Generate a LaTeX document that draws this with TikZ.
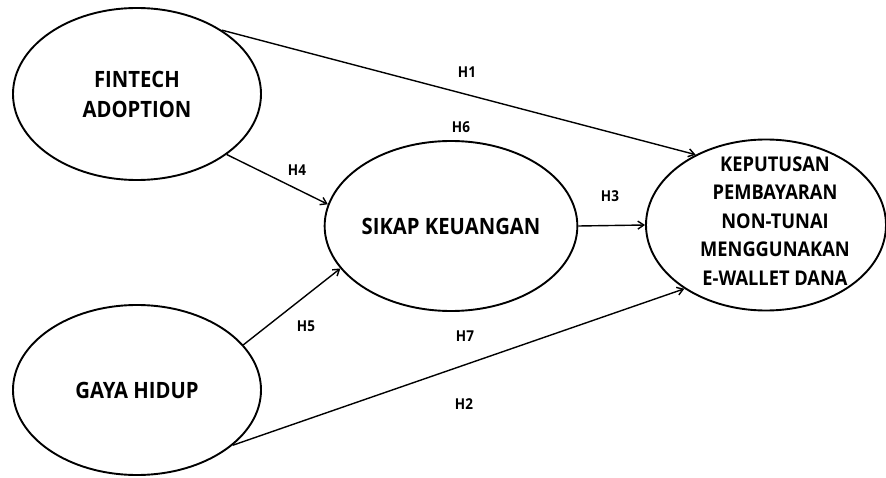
\documentclass[tikz,border=0pt]{standalone}
\usepackage{fontspec}
\newfontfamily\lblfont{Open Sans}[FakeStretch=0.9]
\usetikzlibrary{shapes.geometric,arrows.meta}
\begin{document}
\begin{tikzpicture}[x=1pt,y=1pt,
  var/.style={ellipse,draw,line width=1.9pt,inner sep=0pt,align=center,
    font=\lblfont\bfseries\fontsize{22.5}{30}\selectfont},
  conn/.style={line width=1.4pt,-{Straight Barb[length=6pt,width=8pt,line width=1.4pt]}},
  hlab/.style={font=\lblfont\bfseries\fontsize{15}{18}\selectfont}]
\useasboundingbox (0,0) rectangle (886,477);
\node[var,minimum width=248,minimum height=172] (fa) at (137,383) {FINTECH\\ADOPTION};
\node[var,minimum width=248,minimum height=170] (gh) at (137,87) {GAYA HIDUP};
\node[var,minimum width=250,minimum height=170] (sk) at (451,251) {SIKAP KEUANGAN};
\node[var,minimum width=240,minimum height=171] (kp) at (766,252) {};
\node[align=center,inner sep=0pt,font=\lblfont\bfseries\fontsize{20.3}{28.5}\selectfont] (kpt) at (775,256) {KEPUTUSAN\\PEMBAYARAN\\NON-TUNAI\\MENGGUNAKAN\\E-WALLET DANA};
\draw[conn] (fa.37) -- (kp.135);
\draw[conn] (fa.-34) -- (sk.170);
\draw[conn] (gh.23) -- (sk.201);
\draw[conn] (gh.-30) -- (kp.218);
\draw[conn] (sk.east) -- (kp.west);
\node[hlab] (h1) at (467,405) {H1};
\node[hlab] (h6) at (461,350) {H6};
\node[hlab] (h4) at (297,307) {H4};
\node[hlab] (h3) at (610,281) {H3};
\node[hlab] (h5) at (306,151) {H5};
\node[hlab] (h7) at (465,141) {H7};
\node[hlab] (h2) at (464,73) {H2};
\end{tikzpicture}
\end{document}
